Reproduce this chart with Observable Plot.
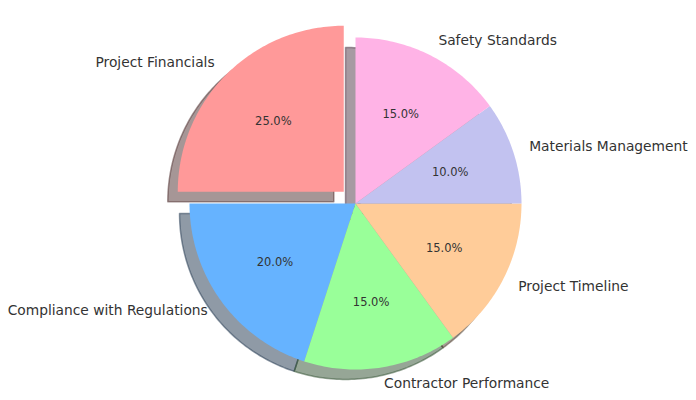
<!DOCTYPE html>
<html>
<head>
<meta charset="utf-8">
<script src="https://cdn.jsdelivr.net/npm/d3@7"></script>
<script src="https://cdn.jsdelivr.net/npm/@observablehq/plot@0.6"></script>
<style>
  html, body { margin: 0; padding: 0; background: #fff; }
  #chart svg { display: block; }
</style>
</head>
<body>
<div id="chart"></div>
<script>
const categories = ["Project Financials", "Compliance with Regulations", "Contractor Performance", "Project Timeline", "Materials Management", "Safety Standards"];
const shares = [25, 20, 15, 15, 10, 15];
const colors = ["#ff9999", "#66b3ff", "#99ff99", "#ffcc99", "#c2c2f0", "#ffb3e6"];
const explode = [0.1, 0, 0, 0, 0, 0];

const startAngle = 90;       // degrees, counter-clockwise
const labelDistance = 1.1;
const pctDistance = 0.6;
const shadowOffset = [-0.06, -0.06];

const total = d3.sum(shares);
const wedges = [];
let acc = startAngle;
shares.forEach((s, i) => {
  const a0 = acc, a1 = acc + 360 * s / total;
  acc = a1;
  const mid = (a0 + a1) / 2 * Math.PI / 180;
  const cx = explode[i] * Math.cos(mid), cy = explode[i] * Math.sin(mid);
  wedges.push({i, name: categories[i], share: s, color: colors[i], a0, a1, mid, cx, cy});
});

function shadeColor(c) {
  const r = d3.rgb(c);
  return d3.rgb(r.r * 0.3, r.g * 0.3, r.b * 0.3).formatHex();
}

function outline(w, ox, oy) {
  const pts = [{key: w.i, x: w.cx + ox, y: w.cy + oy}];
  const n = Math.max(4, Math.ceil((w.a1 - w.a0) / 1));
  for (let k = 0; k <= n; k++) {
    const a = (w.a0 + (w.a1 - w.a0) * k / n) * Math.PI / 180;
    pts.push({key: w.i, x: w.cx + ox + Math.cos(a), y: w.cy + oy + Math.sin(a)});
  }
  pts.push({key: w.i, x: w.cx + ox, y: w.cy + oy});
  return pts;
}

const shadowMarks = wedges.map(w => Plot.line(outline(w, shadowOffset[0], shadowOffset[1]), {
  x: "x", y: "y", fill: shadeColor(w.color), fillOpacity: 0.5,
  stroke: shadeColor(w.color), strokeOpacity: 0.5, strokeWidth: 1.5
}));
const wedgeMarks = wedges.map(w => Plot.line(outline(w, 0, 0), {
  x: "x", y: "y", fill: w.color, stroke: "none"
}));

const labels = wedges.map(w => ({
  name: w.name,
  x: w.cx + labelDistance * Math.cos(w.mid),
  y: w.cy + labelDistance * Math.sin(w.mid),
  right: Math.cos(w.mid) >= 0
}));
const pcts = wedges.map(w => ({
  text: (100 * w.share / total).toFixed(1) + "%",
  x: w.cx + pctDistance * Math.cos(w.mid),
  y: w.cy + pctDistance * Math.sin(w.mid)
}));

const W = 696, H = 400, R = 166, CX = 355, CY = 203;

const chart = Plot.plot({
  width: W, height: H,
  margin: 0,
  style: {fontFamily: "DejaVu Sans", background: "#fff"},
  x: {domain: [-CX / R, (W - CX) / R], range: [0, W], axis: null},
  y: {domain: [-(H - CY) / R, CY / R], range: [H, 0], axis: null},
  marks: [
    ...shadowMarks,
    ...wedgeMarks,
    Plot.text(labels.filter(d => d.right), {x: "x", y: "y", text: "name", textAnchor: "start", fontSize: 13.8, fill: "#333"}),
    Plot.text(labels.filter(d => !d.right), {x: "x", y: "y", text: "name", textAnchor: "end", fontSize: 13.8, fill: "#333"}),
    Plot.text(pcts, {x: "x", y: "y", text: "text", fontSize: 11.5, fill: "#333"})
  ]
});
document.getElementById("chart").appendChild(chart);
</script>
</body>
</html>
